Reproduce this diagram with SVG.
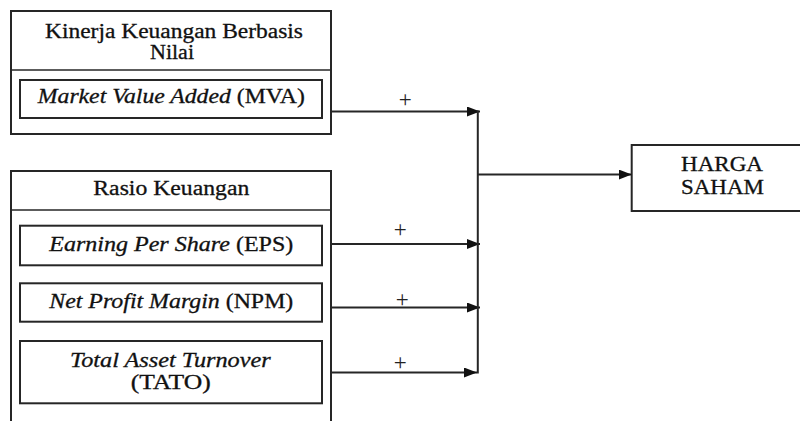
<svg xmlns="http://www.w3.org/2000/svg" width="800" height="421" viewBox="0 0 800 421">
<defs>
<style>
.box{fill:#fff;stroke:#262626;stroke-width:2}
.div{stroke:#262626;stroke-width:1.6;fill:none}
.t{font-family:'Liberation Serif',serif;font-size:20.5px;fill:#111;stroke:#111;stroke-width:0.3;text-anchor:middle}
.i{font-style:italic}
.ln{stroke:#262626;stroke-width:2;fill:none}
.plus{font-family:'Liberation Serif',serif;font-size:23px;fill:#222;text-anchor:middle}
</style>
<marker id="ah" markerWidth="13" markerHeight="10" refX="13" refY="5" orient="auto" markerUnits="userSpaceOnUse">
<path d="M0,0 L13,5 L0,10 Z" fill="#111"/>
</marker>
</defs>
<rect width="800" height="421" fill="#fff"/>

<g id="kinerja">
<rect class="box" x="11" y="11" width="320" height="123"/>
<line class="div" x1="11" y1="70" x2="331" y2="70"/>
<text class="t" x="174" y="38.3" textLength="258" lengthAdjust="spacingAndGlyphs">Kinerja Keuangan Berbasis</text>
<text class="t" x="172" y="59.3" textLength="44" lengthAdjust="spacingAndGlyphs">Nilai</text>
</g>
<g id="mva">
<rect class="box" x="20" y="80" width="302" height="38"/>
<text class="t" x="171.3" y="103.3" textLength="267" lengthAdjust="spacingAndGlyphs"><tspan class="i">Market Value Added</tspan> (MVA)</text>
</g>

<g id="rasio">
<rect class="box" x="11" y="171" width="320" height="270"/>
<line class="div" x1="11" y1="210" x2="331" y2="210"/>
<text class="t" x="171.3" y="195" textLength="156" lengthAdjust="spacingAndGlyphs">Rasio Keuangan</text>
</g>
<g id="eps">
<rect class="box" x="20" y="225.7" width="302" height="39.6"/>
<text class="t" x="171.3" y="251" textLength="244" lengthAdjust="spacingAndGlyphs"><tspan class="i">Earning Per Share</tspan> (EPS)</text>
</g>
<g id="npm">
<rect class="box" x="20" y="283.3" width="302" height="38.4"/>
<text class="t" x="171.3" y="307.7" textLength="244" lengthAdjust="spacingAndGlyphs"><tspan class="i">Net Profit Margin</tspan> (NPM)</text>
</g>
<g id="tato">
<rect class="box" x="20" y="341" width="302" height="62.3"/>
<text class="t i" x="170.3" y="366.7" textLength="200.7" lengthAdjust="spacingAndGlyphs">Total Asset Turnover</text>
<text class="t" x="170.7" y="389.3" textLength="80" lengthAdjust="spacingAndGlyphs">(TATO)</text>
</g>

<g id="harga">
<rect class="box" x="631.7" y="145" width="200" height="66"/>
<text class="t" x="722" y="170.7" textLength="82" lengthAdjust="spacingAndGlyphs">HARGA</text>
<text class="t" x="722.5" y="194" textLength="83" lengthAdjust="spacingAndGlyphs">SAHAM</text>
</g>

<g id="connectors">
<line class="ln" x1="331" y1="111.5" x2="480" y2="111.5" marker-end="url(#ah)"/>
<line class="ln" x1="331" y1="244" x2="480" y2="244" marker-end="url(#ah)"/>
<line class="ln" x1="331" y1="307.5" x2="480" y2="307.5" marker-end="url(#ah)"/>
<line class="ln" x1="331" y1="372.5" x2="477" y2="372.5" marker-end="url(#ah)"/>
<line class="ln" x1="477.8" y1="110.5" x2="477.8" y2="373.5"/>
<line class="ln" x1="477.8" y1="174.5" x2="631.7" y2="174.5" marker-end="url(#ah)"/>
<text class="plus" x="405.3" y="106.5">+</text>
<text class="plus" x="400.3" y="236.5">+</text>
<text class="plus" x="402.3" y="307">+</text>
<text class="plus" x="400.3" y="370.3">+</text>
</g>
</svg>
